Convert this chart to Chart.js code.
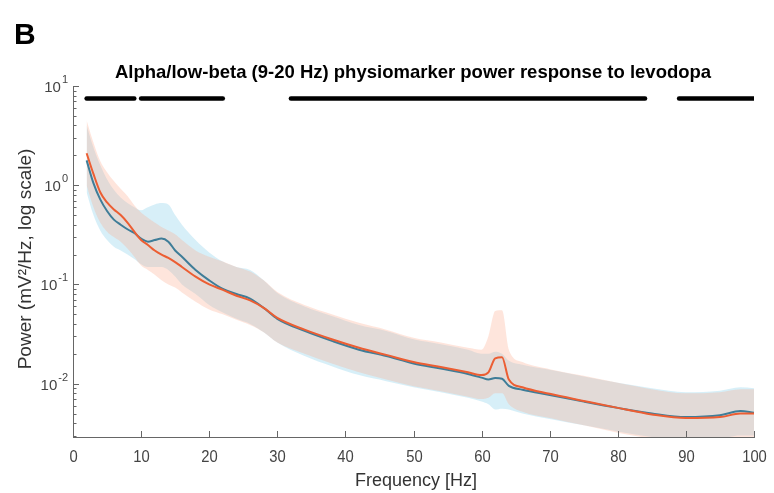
<!DOCTYPE html>
<html>
<head>
<meta charset="utf-8">
<script src="https://cdn.jsdelivr.net/npm/chart.js@4.4.0/dist/chart.umd.min.js"></script>
<style>
    html, body { margin: 0; padding: 0; background: #fff; }
    #wrap { width: 774px; height: 493px; }
</style>
</head>
<body>
<div id="wrap"><canvas id="psdChart" width="774" height="493"></canvas></div>
<script>
// frequencies (Hz)
const freq = [2, 3, 4, 5, 6, 7, 8, 9, 10, 11, 12, 13, 14, 15, 16, 18, 20, 22, 24, 26, 28, 30, 34, 38, 42, 46, 50, 54, 58, 60, 61, 62, 63, 64, 66, 70, 75, 80, 85, 90, 95, 98, 100];

// blue series: mean and shaded band
const blueMean = [1.78, 1.05, 0.72, 0.55, 0.45, 0.40, 0.36, 0.33, 0.29, 0.27, 0.28, 0.29, 0.27, 0.22, 0.19, 0.14, 0.11, 0.09, 0.08, 0.072, 0.058, 0.045, 0.034, 0.027, 0.022, 0.019, 0.016, 0.0142, 0.0125, 0.0115, 0.011, 0.0114, 0.0112, 0.0095, 0.0087, 0.0077, 0.0066, 0.0057, 0.0050, 0.0046, 0.0048, 0.0053, 0.0051];
const blueLow = [0.85, 0.5, 0.35, 0.28, 0.24, 0.22, 0.2, 0.18, 0.16, 0.15, 0.15, 0.15, 0.14, 0.12, 0.1, 0.08, 0.062, 0.052, 0.045, 0.04, 0.033, 0.026, 0.019, 0.015, 0.0122, 0.0106, 0.0092, 0.0082, 0.0072, 0.0066, 0.0062, 0.0055, 0.0056, 0.0055, 0.005, 0.0044, 0.0038, 0.0033, 0.0029, 0.0027, 0.0028, 0.003, 0.003];
const blueHigh = [4.0, 2.4, 1.6, 1.15, 0.9, 0.75, 0.66, 0.6, 0.56, 0.6, 0.64, 0.66, 0.64, 0.5, 0.4, 0.28, 0.21, 0.17, 0.15, 0.14, 0.11, 0.082, 0.06, 0.048, 0.039, 0.034, 0.028, 0.025, 0.022, 0.02, 0.02, 0.021, 0.02, 0.017, 0.0155, 0.0138, 0.0118, 0.0102, 0.009, 0.0082, 0.0085, 0.0092, 0.009];

// orange series: mean and shaded band
const orangeMean = [2.1, 1.3, 0.85, 0.67, 0.57, 0.50, 0.42, 0.34, 0.28, 0.25, 0.22, 0.20, 0.185, 0.168, 0.15, 0.12, 0.10, 0.088, 0.077, 0.069, 0.058, 0.046, 0.035, 0.028, 0.023, 0.0195, 0.0165, 0.0147, 0.013, 0.0122, 0.013, 0.018, 0.0185, 0.011, 0.0092, 0.0079, 0.0067, 0.0057, 0.0049, 0.0045, 0.0046, 0.0050, 0.0050];
const orangeLow = [1.0, 0.6, 0.42, 0.34, 0.3, 0.27, 0.23, 0.19, 0.155, 0.14, 0.125, 0.11, 0.1, 0.093, 0.083, 0.067, 0.056, 0.05, 0.044, 0.039, 0.033, 0.026, 0.02, 0.016, 0.013, 0.011, 0.0094, 0.0084, 0.0074, 0.007, 0.0072, 0.008, 0.008, 0.0062, 0.0052, 0.0045, 0.0038, 0.0032, 0.0028, 0.0026, 0.0026, 0.0028, 0.0028];
const orangeHigh = [4.5, 2.7, 1.75, 1.35, 1.1, 0.92, 0.78, 0.63, 0.53, 0.47, 0.42, 0.38, 0.35, 0.32, 0.28, 0.22, 0.19, 0.17, 0.15, 0.135, 0.11, 0.084, 0.062, 0.05, 0.041, 0.035, 0.029, 0.026, 0.023, 0.022, 0.03, 0.054, 0.055, 0.022, 0.0165, 0.014, 0.012, 0.0102, 0.0088, 0.008, 0.0082, 0.0088, 0.0088];

// significance bars
const sigStart = [2, 10, 32, 89];
const sigEnd = [9, 22, 84, 100];
const sigLevel = 7.5;

// axes
const yTicks = [0.01, 0.1, 1, 10];
const yExp = ['-2', '-1', '0', '1'];
const xTicks = [0, 10, 20, 30, 40, 50, 60, 70, 80, 90, 100];

const FONT = '"Liberation Sans", Arial, sans-serif';
const pts = arr => freq.map((f, i) => ({x: f, y: arr[i]}));
const BLUE = '#3f7d98';
const ORANGE = '#ec5e33';
const BLUE_FILL = 'rgba(150,212,236,0.38)';
const ORANGE_FILL = 'rgba(252,170,140,0.30)';

const sigSets = sigStart.map((s, i) => ({
    data: [{x: s, y: sigLevel}, {x: sigEnd[i], y: sigLevel}],
    borderColor: '#000', borderWidth: 4.5, borderCapStyle: 'round', pointRadius: 0, order: 0
}));

// inward ticks, labels, titles
const decor = {
    id: 'decor',
    afterDraw(chart) {
        const c = chart.ctx;
        const xs = chart.scales.x, ys = chart.scales.y;
        const left = chart.chartArea.left, bottom = chart.chartArea.bottom;
        c.save();
        c.strokeStyle = '#666';
        c.lineWidth = 1;
        // y ticks
        for (let e = -3; e <= 0; e++) {
            for (let m = 1; m <= 9; m++) {
                const v = m * Math.pow(10, e);
                if (v < ys.min || v > ys.max) continue;
                const py = Math.round(ys.getPixelForValue(v)) + 0.5;
                c.beginPath();
                c.moveTo(left, py);
                c.lineTo(left + (m === 1 ? 6 : 3.5), py);
                c.stroke();
            }
        }
        const top = Math.round(ys.getPixelForValue(10)) + 0.5;
        c.beginPath(); c.moveTo(left, top); c.lineTo(left + 6, top); c.stroke();
        // x ticks + labels
        c.fillStyle = '#444';
        c.textAlign = 'center';
        c.textBaseline = 'alphabetic';
        c.font = '17px ' + FONT;
        xTicks.forEach(t => {
            const px = Math.round(xs.getPixelForValue(t)) + 0.5;
            c.beginPath(); c.moveTo(px, bottom); c.lineTo(px, bottom - 6); c.stroke();
            const lbl = String(t);
            c.fillText(lbl, px, 462, c.measureText(lbl).width * 0.87);
        });
        // y labels 10^k
        yTicks.forEach((v, i) => {
            const py = ys.getPixelForValue(v);
            c.font = '11px ' + FONT;
            const ew = c.measureText(yExp[i]).width;
            c.textAlign = 'right';
            c.fillText(yExp[i], left - 5, py - 3);
            c.font = '15px ' + FONT;
            c.fillText('10', left - 6 - ew, py + 6);
        });
        // axis titles
        c.fillStyle = '#333';
        c.textAlign = 'center';
        c.font = '18px ' + FONT;
        c.fillText('Frequency [Hz]', 416, 486, 126);
        c.save();
        c.translate(31, 259);
        c.rotate(-Math.PI / 2);
        c.font = '19px ' + FONT;
        c.fillText('Power (mV²/Hz, log scale)', 0, 0, 224);
        c.restore();
        // panel letter and title
        c.fillStyle = '#000';
        c.textAlign = 'left';
        c.font = 'bold 30px ' + FONT;
        c.fillText('B', 14, 44);
        c.textAlign = 'center';
        c.font = 'bold 18.5px ' + FONT;
        c.fillText('Alpha/low-beta (9-20 Hz) physiomarker power response to levodopa', 413, 78);
        c.restore();
    }
};

new Chart(document.getElementById('psdChart'), {
    type: 'line',
    data: {
        datasets: [
            ...sigSets,
            {data: pts(orangeMean), borderColor: ORANGE, borderWidth: 2, pointRadius: 0, order: 1},
            {data: pts(blueMean), borderColor: BLUE, borderWidth: 2, pointRadius: 0, order: 2},
            {data: pts(orangeLow), borderWidth: 0, pointRadius: 0, fill: false, order: 3},
            {data: pts(orangeHigh), borderWidth: 0, pointRadius: 0, fill: '-1', backgroundColor: ORANGE_FILL, order: 3},
            {data: pts(blueLow), borderWidth: 0, pointRadius: 0, fill: false, order: 4},
            {data: pts(blueHigh), borderWidth: 0, pointRadius: 0, fill: '-1', backgroundColor: BLUE_FILL, order: 4}
        ]
    },
    options: {
        responsive: false,
        animation: false,
        devicePixelRatio: 1,
        elements: {line: {cubicInterpolationMode: 'monotone'}},
        layout: {padding: {top: 86, right: 20, left: 0, bottom: 0}},
        plugins: {legend: {display: false}, tooltip: {enabled: false}},
        scales: {
            x: {
                type: 'linear', min: 0, max: 100,
                afterBuildTicks: s => { s.ticks = xTicks.map(v => ({value: v})); },
                afterFit: s => { s.height = 56; },
                grid: {display: false, drawTicks: false},
                border: {display: true, color: '#666', width: 1},
                ticks: {display: false}
            },
            y: {
                type: 'logarithmic', min: 0.0029, max: 10,
                afterBuildTicks: s => { s.ticks = yTicks.map(v => ({value: v})); },
                afterFit: s => { s.width = 73; },
                grid: {display: false, drawTicks: false},
                border: {display: true, color: '#666', width: 1},
                ticks: {display: false}
            }
        }
    },
    plugins: [decor]
});
</script>
</body>
</html>
